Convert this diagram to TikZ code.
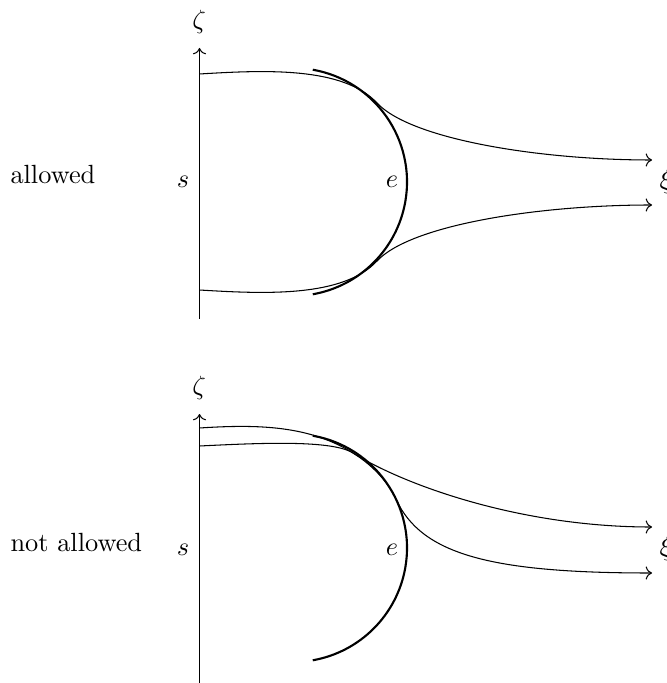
\documentclass[tikz,border=0pt]{standalone}
\usetikzlibrary{arrows.meta}
\begin{document}
\begin{tikzpicture}[x=0.38pt,y=0.38pt,
  >={Computer Modern Rightarrow[length=2.4pt,width=5pt]},
  thinline/.style={line width=0.4pt},
  arcline/.style={line width=0.8pt},
  lbl/.style={inner sep=0pt, anchor=base},
  txt/.style={inner sep=0pt, anchor=base west}]
\useasboundingbox (0,0) rectangle (666,-683);

% ---------- top: allowed ----------
\coordinate (a1b) at (199.5,-319);
\coordinate (a1t) at (199.5,-48);
\draw[thinline,->] (a1b) -- (a1t);
\node[lbl] (z1) at (199,-28.5) {$\zeta$};
\coordinate (c1) at (293,-182);
\draw[arcline] (c1) ++(80:114) arc[start angle=80,end angle=-80,radius=114];
\coordinate (t1s) at (199.5,-74);
\coordinate (t1e) at (652,-160);
\coordinate (t2s) at (199.5,-290);
\coordinate (t2e) at (652,-205);
\draw[thinline,->] (t1s) .. controls (265,-70) and (343,-66.5) .. (377,-103)
  .. controls (411,-139.5) and (540,-160) .. (t1e);
\draw[thinline,->] (t2s) .. controls (265,-294) and (343,-297.5) .. (377,-261)
  .. controls (411,-224.5) and (540,-205) .. (t2e);
\node[txt] (al) at (10,-183.3) {allowed};
\node[lbl] (s1) at (183,-188) {$s$};
\node[lbl] (e1) at (392,-188) {$e$};
\node[txt] (x1) at (659,-188.5) {$\xi$};

% ---------- bottom: not allowed ----------
\coordinate (a2b) at (199.5,-690);
\coordinate (a2t) at (199.5,-414);
\draw[thinline,->] (a2b) -- (a2t);
\node[lbl] (z2) at (199,-395) {$\zeta$};
\coordinate (c2) at (293,-548);
\draw[arcline] (c2) ++(80:114) arc[start angle=80,end angle=-80,radius=114];
\coordinate (b1s) at (199.5,-428);
\coordinate (b1e) at (652,-527);
\coordinate (b2s) at (199.5,-446);
\coordinate (b2e) at (652,-573);
\draw[thinline,->] (b1s) .. controls (260,-424) and (310,-426) .. (353,-453)
  .. controls (404,-485) and (520,-527) .. (b1e);
\draw[thinline,->] (b2s) .. controls (260,-443) and (332,-439.7) .. (353,-453)
  .. controls (371.4,-464.6) and (387.1,-480.1) .. (396.3,-499.8)
  .. controls (421.7,-554.2) and (490,-573) .. (b2e);
\node[txt] (nal) at (10,-551.7) {not allowed};
\node[lbl] (s2) at (183,-555.5) {$s$};
\node[lbl] (e2) at (392,-555.5) {$e$};
\node[txt] (x2) at (659,-555.5) {$\xi$};
\end{tikzpicture}
\end{document}
